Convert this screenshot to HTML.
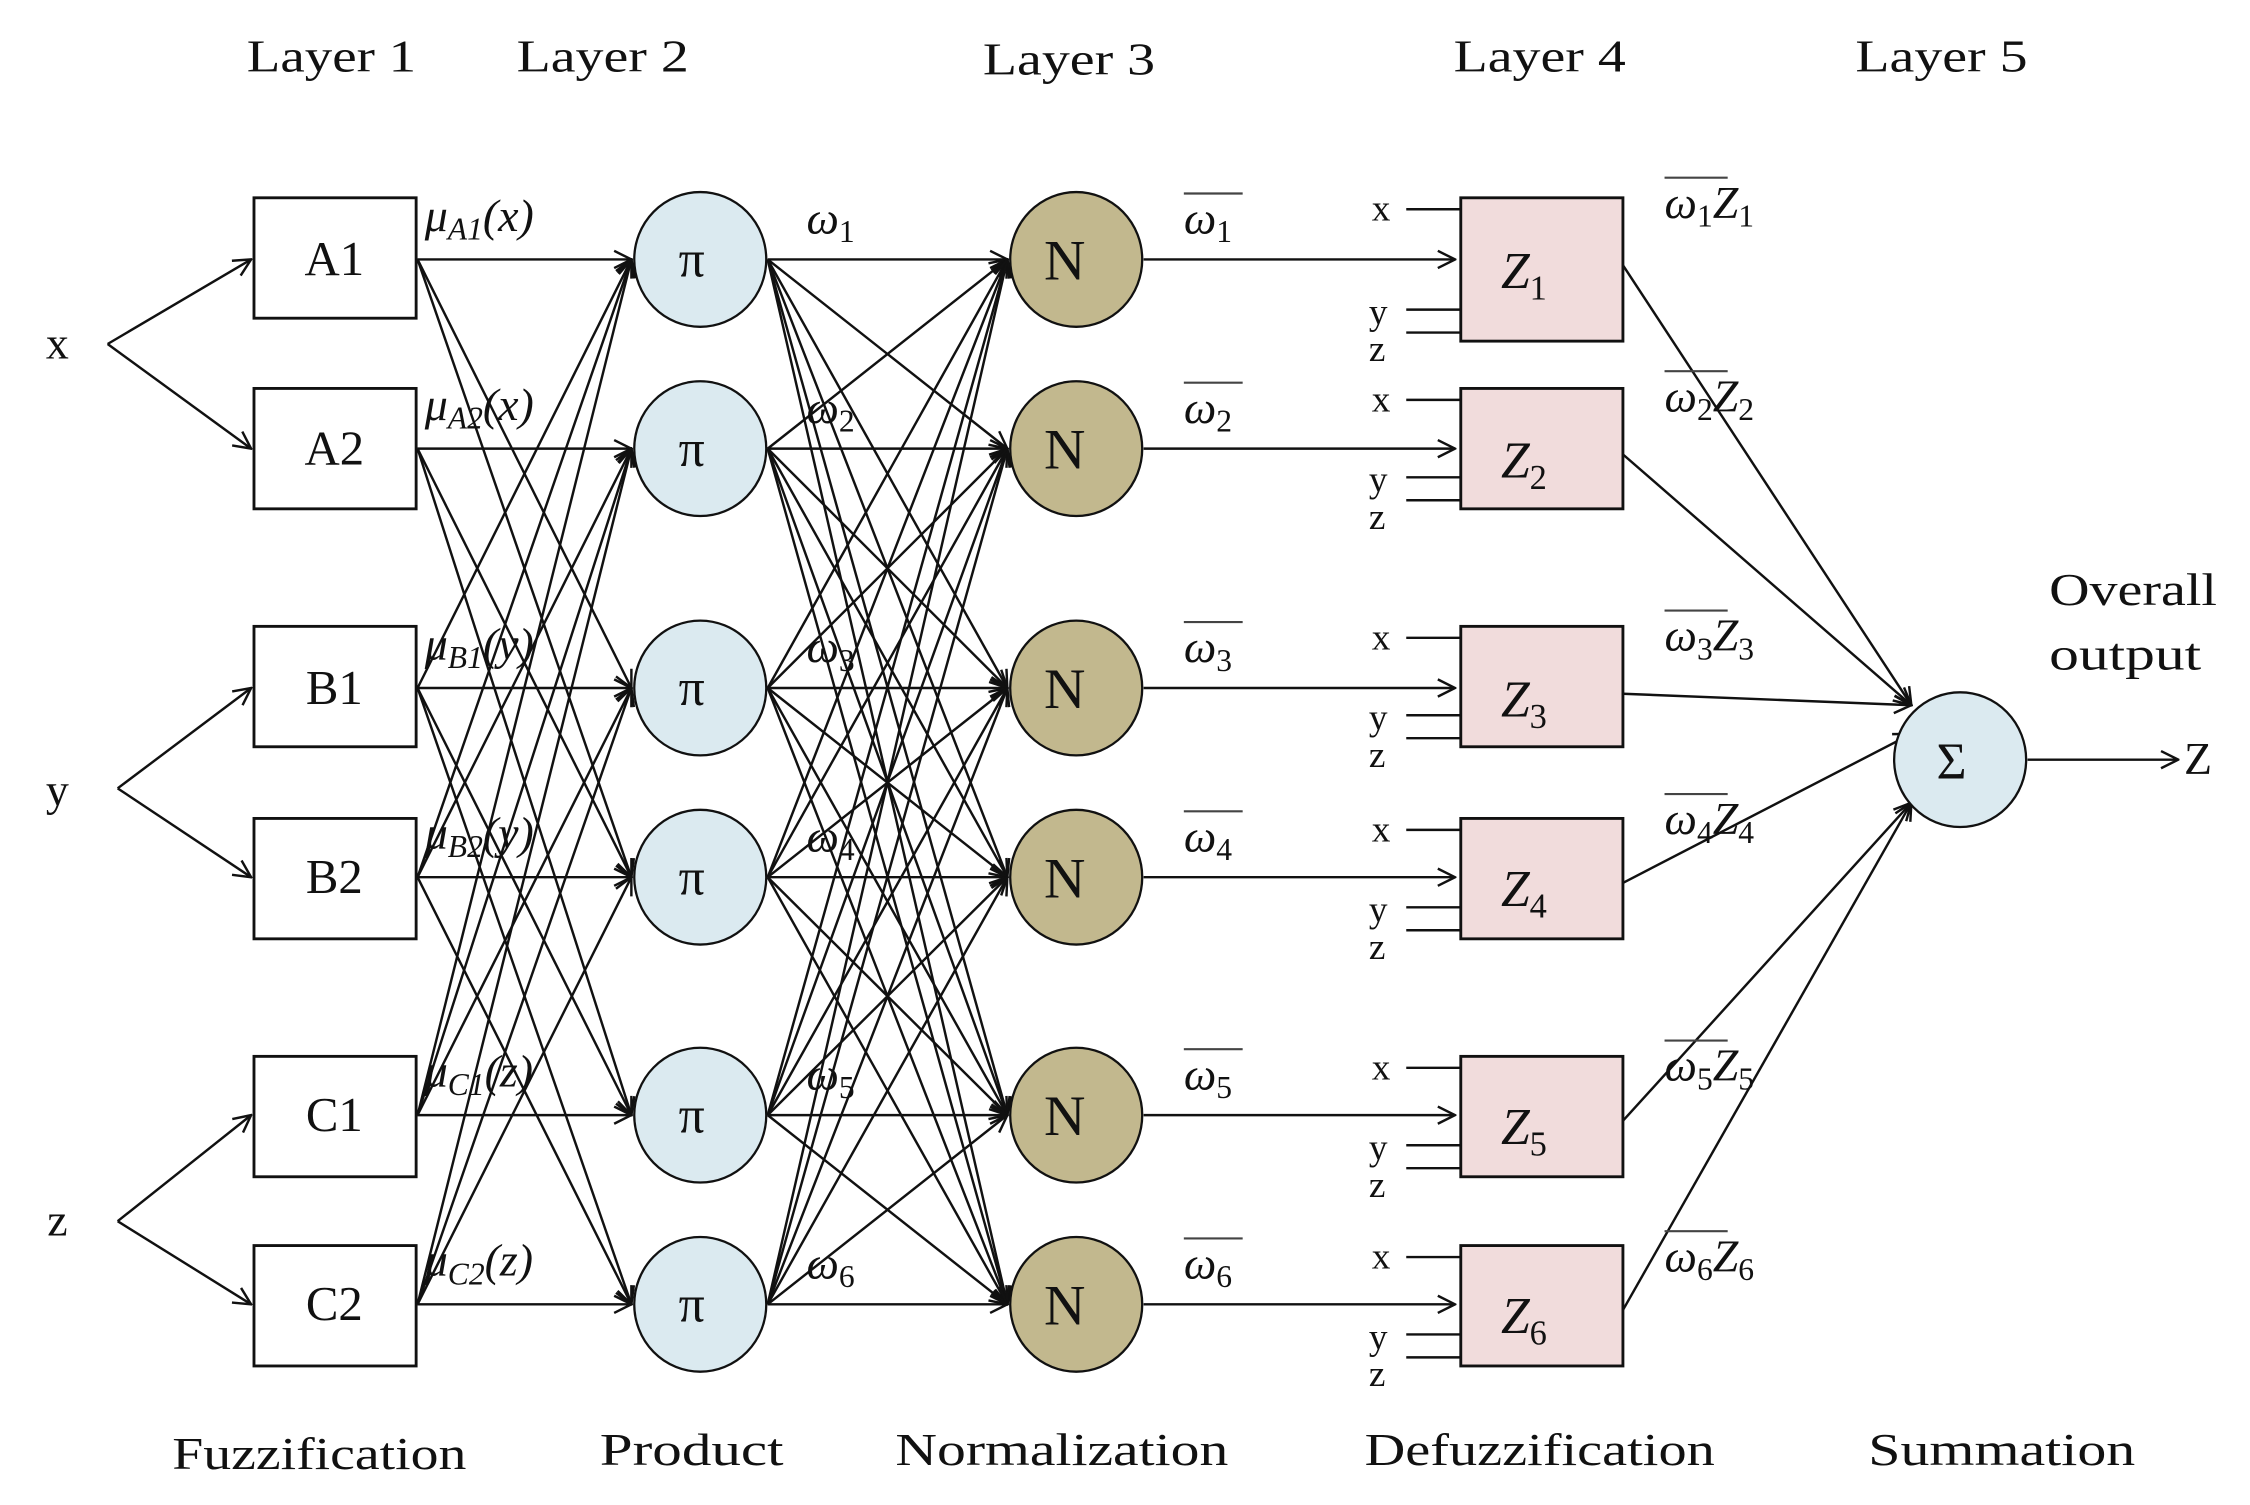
<!DOCTYPE html>
<html><head><meta charset="utf-8"><style>
html,body{margin:0;padding:0;background:#fff;}
svg{display:block}
text{font-family:"Liberation Serif",serif;fill:#111}
.m{font-style:italic}
</style></head><body>
<svg id="s" width="2250" height="1505" viewBox="0 0 1568 1050" preserveAspectRatio="none" xmlns="http://www.w3.org/2000/svg">
<defs>
<marker id="a" markerWidth="14" markerHeight="14" refX="13" refY="7" orient="auto" markerUnits="userSpaceOnUse">
<path d="M1,1 L13,7 L1,13" fill="none" stroke="#111" stroke-width="1.7"/>
</marker>
</defs>
<g id="lines" stroke="#111" stroke-width="1.7" fill="none"></g>
<g id="nodes"></g>
<g font-size="32">
<text x="172" y="50" textLength="118" lengthAdjust="spacingAndGlyphs">Layer 1</text>
<text x="360" y="50" textLength="120" lengthAdjust="spacingAndGlyphs">Layer 2</text>
<text x="685" y="52" textLength="120" lengthAdjust="spacingAndGlyphs">Layer 3</text>
<text x="1013" y="50" textLength="120" lengthAdjust="spacingAndGlyphs">Layer 4</text>
<text x="1293" y="50" textLength="120" lengthAdjust="spacingAndGlyphs">Layer 5</text>
<text x="120" y="1025" textLength="205" lengthAdjust="spacingAndGlyphs">Fuzzification</text>
<text x="418" y="1022" textLength="128" lengthAdjust="spacingAndGlyphs">Product</text>
<text x="624" y="1022" textLength="232" lengthAdjust="spacingAndGlyphs">Normalization</text>
<text x="951" y="1022" textLength="244" lengthAdjust="spacingAndGlyphs">Defuzzification</text>
<text x="1302" y="1022" textLength="186" lengthAdjust="spacingAndGlyphs">Summation</text>
<text x="40" y="250" text-anchor="middle">x</text>
<text x="40" y="562" text-anchor="middle">y</text>
<text x="40" y="862" text-anchor="middle">z</text>
<text x="1428" y="422" textLength="117" lengthAdjust="spacingAndGlyphs">Overall</text>
<text x="1428" y="467" textLength="106" lengthAdjust="spacingAndGlyphs">output</text>
<text x="1522" y="540">Z</text>
</g>
</svg>
<script>
var NS="http://www.w3.org/2000/svg",L=document.getElementById('lines'),N=document.getElementById('nodes');
function el(p,t,a,txt){var e=document.createElementNS(NS,t);for(var k in a)e.setAttribute(k,a[k]);if(txt!==undefined)e.textContent=txt;p.appendChild(e);return e;}
function ln(x1,y1,x2,y2,arr){var e=el(L,'line',{x1:x1,y1:y1,x2:x2,y2:y2});if(arr)e.setAttribute('marker-end','url(#a)');}
var ys=[181,313,480,612,778,910];
var names=['A1','A2','B1','B2','C1','C2'];
var mus=['A1','A2','B1','B2','C1','C2'],vars=['x','x','y','y','z','z'];
[[75,240,0],[82,550,2],[82,852,4]].forEach(function(p){ln(p[0],p[1],175,ys[p[2]],1);ln(p[0],p[1],175,ys[p[2]+1],1);});
var conn=[[0,2,3],[1,3,4],[2,0,4,5],[3,1,5,0],[4,0,2,1],[5,1,3,2]];
conn.forEach(function(c,i){ln(291,ys[i],440,ys[i],1);c.slice(1).forEach(function(j){ln(291,ys[i],440,ys[j],1);});});
for(var i=0;i<6;i++)for(var j=0;j<6;j++)ln(535,ys[i],702,ys[j],1);
var zb=[[138,238],[271,355],[437,521],[571,655],[737,821],[869,953]];
for(var i=0;i<6;i++){ln(797,ys[i],1014,ys[i],1);
 var t=zb[i][0],b=zb[i][1];
 ln(980,t+8,1018,t+8);ln(980,b-22,1018,b-22);ln(980,b-6,1018,b-6);
 ln(1131,ys[i]+4,1332,i<3?492:i==3?512:560,1);}
ln(1413,530,1518,530,1);
for(var i=0;i<6;i++){
 el(N,'rect',{x:177,y:[138,271,437,571,737,869][i],width:113,height:84,fill:'#fff',stroke:'#111','stroke-width':2});
 el(N,'text',{x:233,y:ys[i]+11,'font-size':34,'text-anchor':'middle'},names[i]);
 el(N,'ellipse',{cx:488,cy:ys[i],rx:46,ry:47,fill:'#dbeaf0',stroke:'#111','stroke-width':1.6});
 el(N,'text',{x:482,y:ys[i]+12,'font-size':36,'text-anchor':'middle'},'π');
 el(N,'ellipse',{cx:750,cy:ys[i],rx:46,ry:47,fill:'#c2b88e',stroke:'#111','stroke-width':1.6});
 el(N,'text',{x:742,y:ys[i]+14,'font-size':40,'text-anchor':'middle'},'N');
 var t=zb[i][0],b=zb[i][1];
 el(N,'rect',{x:1018,y:t,width:113,height:b-t,fill:'#f1dcdc',stroke:'#111','stroke-width':2});
 var g=el(N,'text',{x:1046,y:ys[i]+20,'font-size':36,'class':'m'},'Z');el(g,'tspan',{'font-size':24,dy:8,style:'font-style:normal'},''+(i+1));
 el(N,'text',{x:956,y:t+16,'font-size':26},'x');
 el(N,'text',{x:954,y:b-12,'font-size':26},'y');
 el(N,'text',{x:954,y:b+14,'font-size':26},'z');
 var m=el(N,'text',{x:296,y:ys[i]-20,'font-size':32,'class':'m'},'μ');el(m,'tspan',{'font-size':22,dy:6},mus[i]);el(m,'tspan',{dy:-6},'('+vars[i]+')');
 var w=el(N,'text',{x:562,y:ys[i]-18,'font-size':32,'class':'m'},'ω');el(w,'tspan',{'font-size':22,dy:6,style:'font-style:normal'},''+(i+1));
 var wb=el(N,'text',{x:825,y:ys[i]-18,'font-size':32,'class':'m'},'ω');el(wb,'tspan',{'font-size':22,dy:6,style:'font-style:normal'},''+(i+1));
 el(N,'line',{x1:825,y1:ys[i]-46,x2:866,y2:ys[i]-46,stroke:'#444','stroke-width':1.5});
 var oy=[152,287,454,582,754,887][i];
 var wz=el(N,'text',{x:1160,y:oy,'font-size':32,'class':'m'},'ω');el(wz,'tspan',{'font-size':22,dy:6,style:'font-style:normal'},''+(i+1));el(wz,'tspan',{dy:-6},'Z');el(wz,'tspan',{'font-size':22,dy:6,style:'font-style:normal'},''+(i+1));
 el(N,'line',{x1:1160,y1:oy-28,x2:1204,y2:oy-28,stroke:'#444','stroke-width':1.5});
}
el(N,'ellipse',{cx:1366,cy:530,rx:46,ry:47,fill:'#dbeaf0',stroke:'#111','stroke-width':1.6});
el(N,'text',{x:1360,y:543,'font-size':36,'text-anchor':'middle'},'Σ');
</script>
</body></html>
